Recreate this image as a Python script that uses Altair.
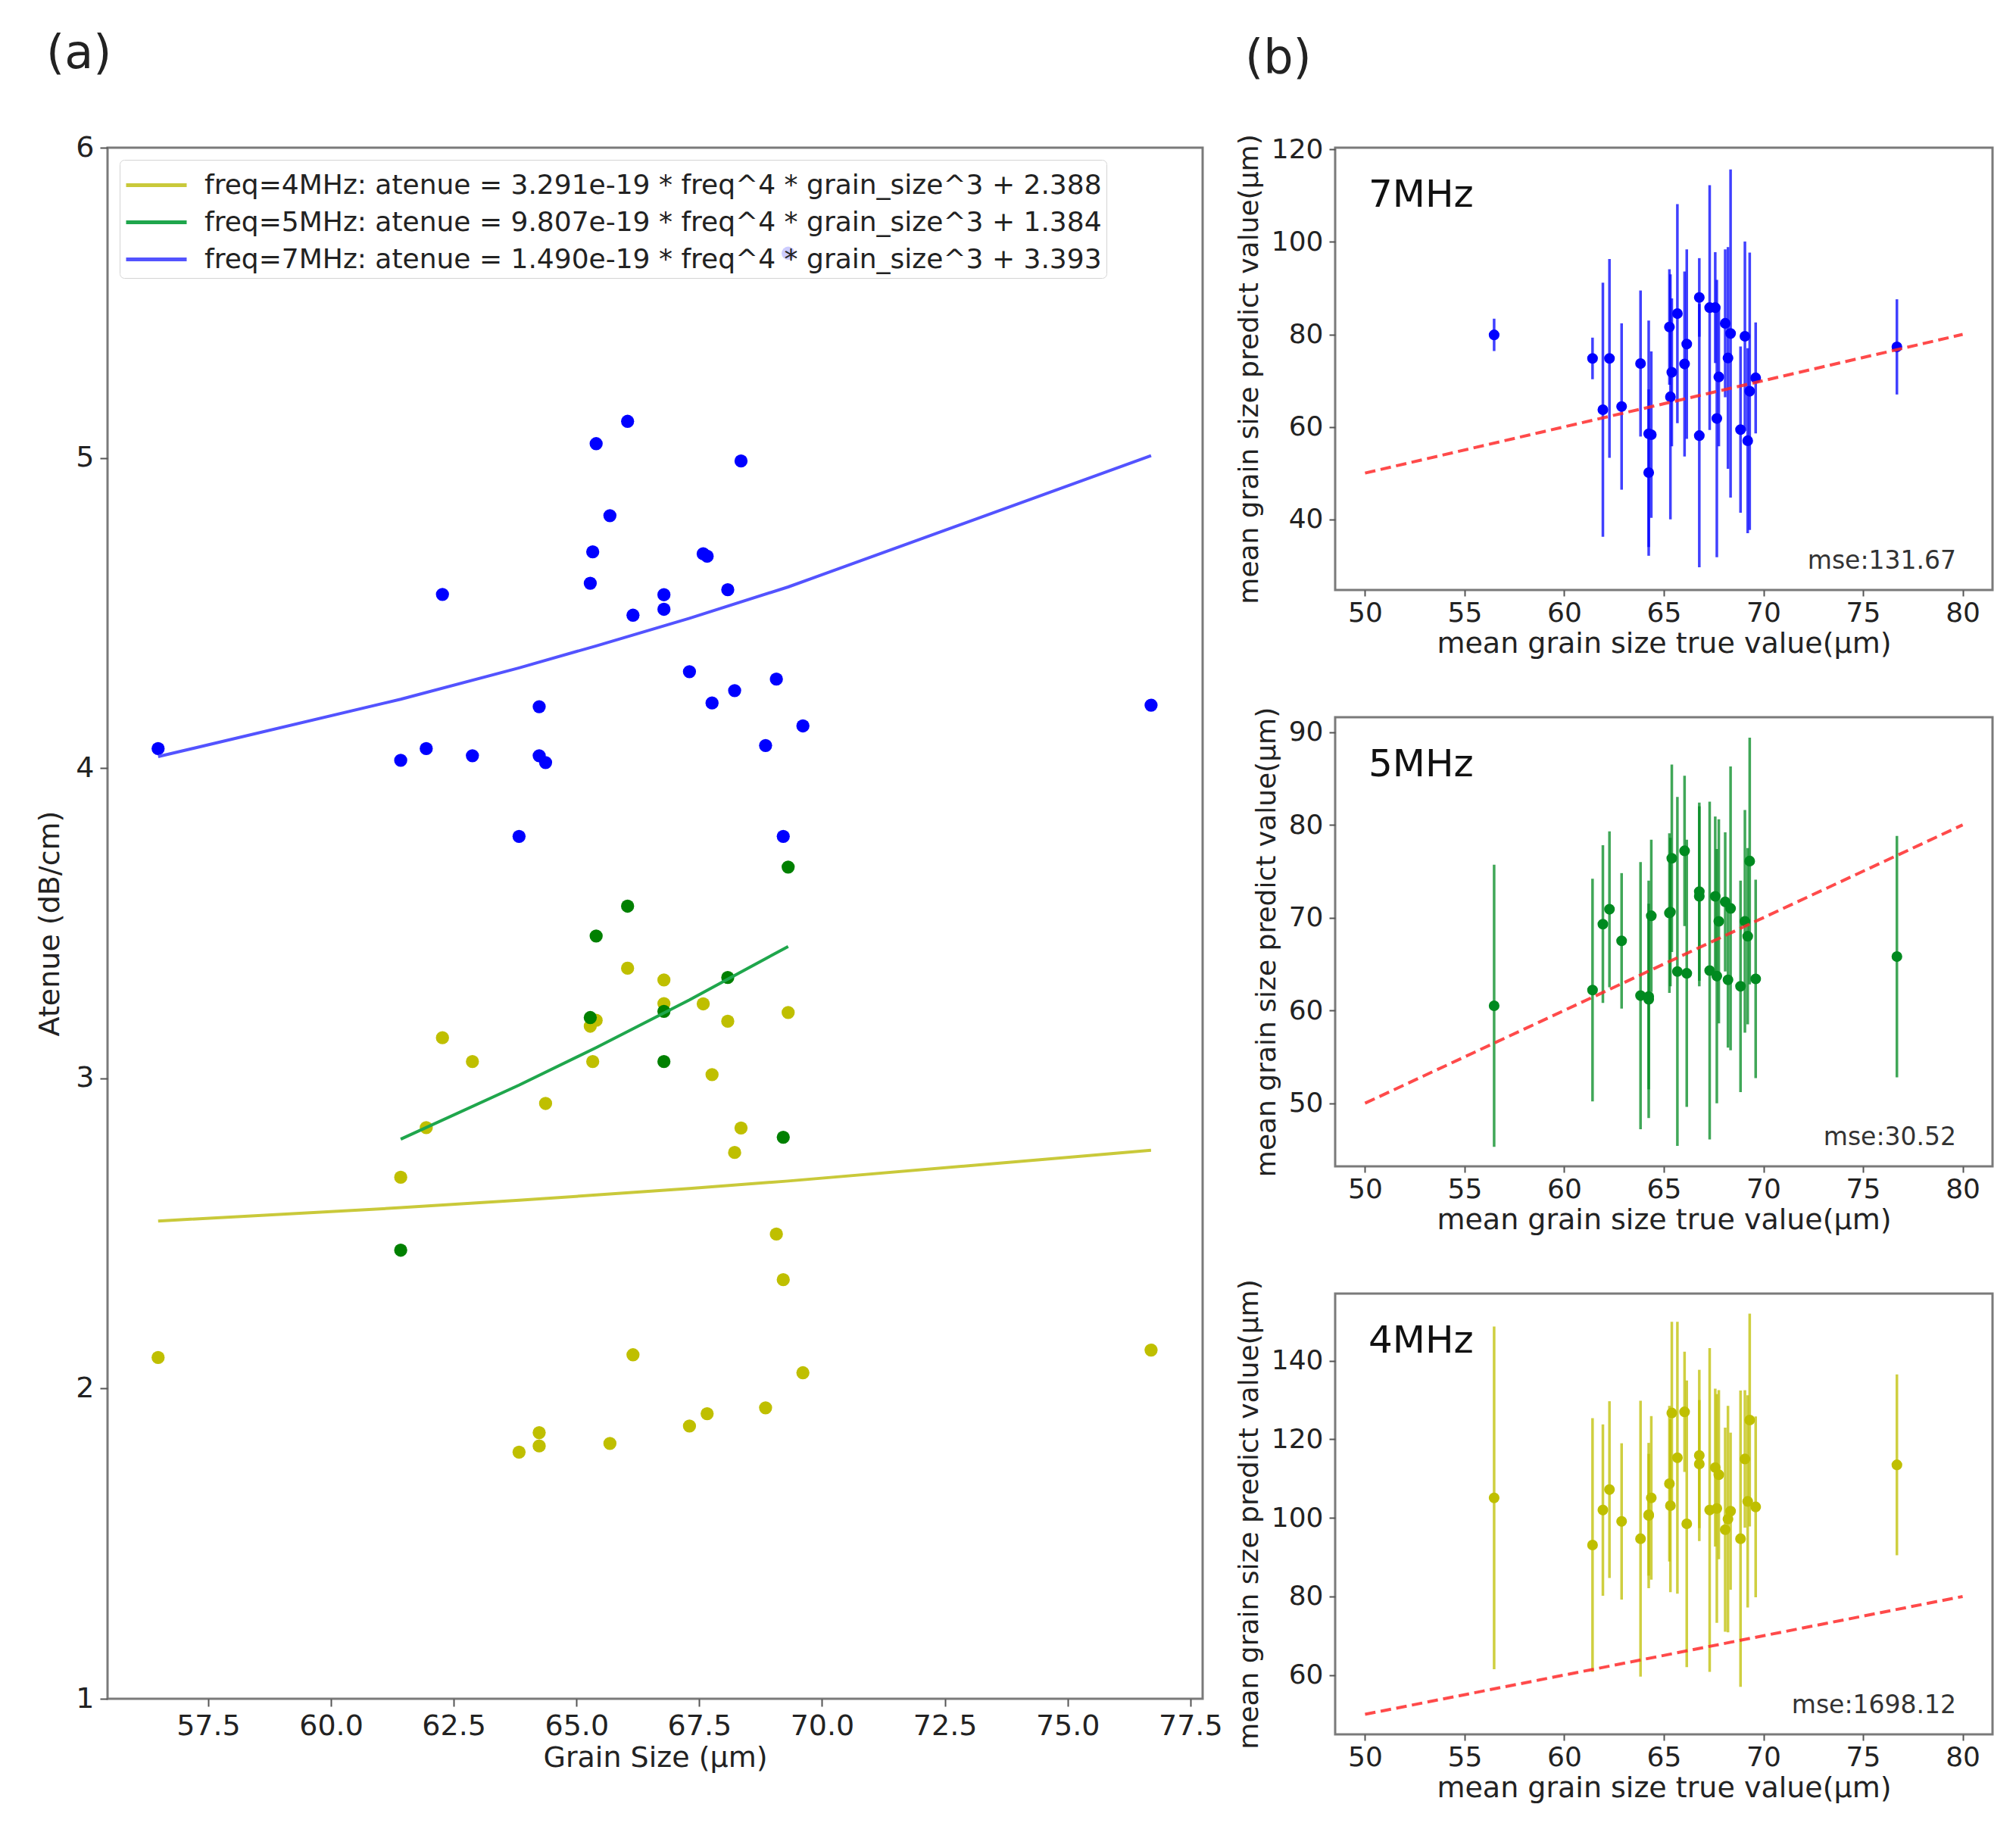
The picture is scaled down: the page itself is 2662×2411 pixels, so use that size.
import altair as alt
import pandas as pd

# ---------------- data ----------------
GRAIN = [56.48, 61.42, 61.94, 62.27, 62.88, 63.83, 64.24, 64.24, 64.37, 65.28,
         65.33, 65.40, 65.68, 66.04, 66.15, 66.78, 66.78, 67.30, 67.58, 67.66,
         67.76, 68.08, 68.22, 68.35, 68.85, 69.07, 69.21, 69.31, 69.61, 76.70]

ATT_4MHZ = [2.100, 2.681, 2.841, 3.131, 3.054, 1.795, 1.858, 1.815, 2.919, 3.168,
            3.054, 3.187, 1.823, 3.355, 2.109, 3.317, 3.241, 1.879, 3.240, 1.919,
            3.012, 3.184, 2.761, 2.840, 1.938, 2.498, 2.351, 3.212, 2.051, 2.124]

ATT_7MHZ = [4.063, 4.025, 4.063, 4.560, 4.040, 3.780, 4.198, 4.040, 4.018, 4.596,
            4.697, 5.046, 4.814, 5.118, 4.493, 4.559, 4.512, 4.311, 4.691, 4.683,
            4.210, 4.575, 4.250, 4.990, 4.073, 4.287, 3.780, 5.660, 4.136, 4.203]

GRAIN_5MHZ = [61.42, 65.28, 65.40, 66.04, 66.78, 66.78, 68.08, 69.21, 69.31]
ATT_5MHZ = [2.446, 3.196, 3.459, 3.555, 3.216, 3.054, 3.325, 2.810, 3.681]

FIT_GRAIN = [56.48, 61.42, 63.83, 65.40, 67.30, 69.31, 76.70]
FIT_4MHZ = [2.540, 2.583, 2.607, 2.624, 2.645, 2.669, 2.768]
FIT_7MHZ = [4.037, 4.222, 4.323, 4.394, 4.483, 4.584, 5.007]
FIT_GRAIN_5 = [61.42, 63.83, 65.40, 67.30, 69.31]
FIT_5MHZ = [2.804, 2.978, 3.099, 3.253, 3.425]

LEGEND_LABELS = [
    "freq=4MHz: atenue = 3.291e-19 * freq^4 * grain_size^3 + 2.388",
    "freq=5MHz: atenue = 9.807e-19 * freq^4 * grain_size^3 + 1.384",
    "freq=7MHz: atenue = 1.490e-19 * freq^4 * grain_size^3 + 3.393",
]

PRED_7MHZ = [79.9, 74.8, 63.7, 74.8, 64.4, 73.7, 50.1, 58.5, 58.3, 81.6,
             66.5, 71.8, 84.5, 73.6, 77.9, 88.0, 58.1, 85.8, 85.8, 61.8,
             70.8, 82.4, 74.9, 80.2, 59.4, 79.6, 57.0, 67.7, 70.6, 77.3]
ERR_7MHZ = [3.5, 4.5, 27.5, 21.5, 18.0, 15.8, 18.0, 24.5, 18.0, 12.5,
            26.5, 16.0, 23.7, 20.0, 20.5, 8.5, 28.5, 26.5, 12.0, 30.0,
            15.0, 16.0, 24.0, 35.5, 18.0, 20.5, 20.0, 30.0, 12.0, 10.3]

PRED_5MHZ = [60.5, 62.2, 69.3, 70.9, 67.5, 61.6, 61.2, 61.5, 70.2, 70.5,
             70.6, 76.4, 64.2, 77.2, 64.0, 72.8, 72.3, 64.3, 72.3, 63.7,
             69.6, 71.7, 63.3, 71.0, 62.6, 69.6, 68.0, 76.1, 63.4, 65.8]
ERR_5MHZ = [15.2, 12.0, 8.5, 8.4, 7.3, 14.4, 12.8, 10.0, 8.2, 8.6,
            8.0, 10.1, 18.8, 8.1, 14.4, 9.6, 9.7, 18.2, 8.6, 13.7,
            11.0, 7.5, 7.3, 15.3, 11.4, 12.0, 9.5, 13.3, 10.7, 13.0]

PRED_4MHZ = [105.1, 93.1, 102.0, 107.2, 99.1, 94.7, 100.8, 100.6, 105.1, 108.7,
             103.1, 126.7, 115.3, 127.0, 98.5, 115.9, 113.7, 102.0, 112.8, 102.4,
             111.0, 97.0, 99.7, 101.7, 94.7, 115.0, 104.2, 124.9, 102.8, 113.5]
ERR_4MHZ = [43.6, 32.3, 21.8, 22.5, 19.9, 35.1, 15.5, 18.5, 20.8, 19.8,
            22.0, 23.2, 34.6, 15.3, 36.5, 21.8, 16.3, 41.2, 20.1, 29.1,
            21.5, 26.0, 28.8, 20.0, 37.7, 17.5, 27.0, 27.1, 23.0, 23.0]

IDEAL = [50, 80]
MSE_TEXT = ["mse:131.67", "mse:30.52", "mse:1698.12"]
FREQ_LABELS = ["7MHz", "5MHz", "4MHz"]

# ---------------- styles ----------------
FONT = "DejaVu Sans"
PT_COLORS = ["#bfbf00", "#008000", "#0000ff"]
LINE_COLORS = ["#c9c93a", "#1fa64c", "#5353ff"]

# ---------------- panel (a) ----------------
pts = pd.concat([
    pd.DataFrame({"g": GRAIN, "att": ATT_4MHZ, "freq": "4MHz", "o": 0}),
    pd.DataFrame({"g": GRAIN_5MHZ, "att": ATT_5MHZ, "freq": "5MHz", "o": 1}),
    pd.DataFrame({"g": GRAIN, "att": ATT_7MHZ, "freq": "7MHz", "o": 2}),
], ignore_index=True)

fits = pd.concat([
    pd.DataFrame({"g": FIT_GRAIN, "att": FIT_4MHZ, "label": LEGEND_LABELS[0]}),
    pd.DataFrame({"g": FIT_GRAIN_5, "att": FIT_5MHZ, "label": LEGEND_LABELS[1]}),
    pd.DataFrame({"g": FIT_GRAIN, "att": FIT_7MHZ, "label": LEGEND_LABELS[2]}),
], ignore_index=True)

xa = alt.X("g:Q", scale=alt.Scale(domain=[55.45, 77.75], nice=False, zero=False),
           axis=alt.Axis(title="Grain Size (µm)", values=[57.5, 60, 62.5, 65, 67.5, 70, 72.5, 75, 77.5],
                         format=".1f", labelFontSize=38, titleFontSize=38, tickSize=10,
                         labelPadding=7, titlePadding=4))
ya = alt.Y("att:Q", scale=alt.Scale(domain=[1, 6], nice=False, zero=False),
           axis=alt.Axis(title="Atenue (dB/cm)", values=[1, 2, 3, 4, 5, 6], format="d",
                         labelFontSize=38, titleFontSize=38, tickSize=10,
                         labelPadding=8, titlePadding=14))

points_a = alt.Chart(pts).mark_circle(size=300, opacity=1).encode(
    x=xa, y=ya,
    color=alt.Color("freq:N", scale=alt.Scale(domain=["4MHz", "5MHz", "7MHz"], range=PT_COLORS), legend=None),
    order=alt.Order("o:Q"),
)
lines_a = alt.Chart(fits).mark_line(strokeWidth=4).encode(
    x="g:Q", y="att:Q",
    color=alt.Color("label:N", scale=alt.Scale(domain=LEGEND_LABELS, range=LINE_COLORS),
                    legend=alt.Legend(title=None, orient="top-left", offset=16, padding=6,
                                      fillColor="rgba(255,255,255,0.8)", strokeColor="#d4d4d4",
                                      cornerRadius=6, symbolType="M-1.6,0H1.6",
                                      symbolStrokeWidth=5, symbolSize=2500, symbolOffset=15,
                                      labelFontSize=36, labelLimit=3000,
                                      labelOffset=36, rowPadding=3, labelColor="#222")),
)

left = alt.layer(points_a, lines_a).resolve_scale(color="independent").properties(
    width=1446, height=2048,
    title=alt.TitleParams("(a)", anchor="start", frame="group", fontSize=62, fontWeight="normal",
                          dx=-81, offset=73, color="#222"),
)

# ---------------- panel (b) ----------------
def panel(pred, err, color, ydom, yticks, label, mse, height, title=None):
    df = pd.DataFrame({"g": GRAIN, "p": pred,
                       "lo": [p - e for p, e in zip(pred, err)],
                       "hi": [p + e for p, e in zip(pred, err)]})
    ideal = pd.DataFrame({"g": IDEAL, "p": IDEAL})
    x = alt.X("g:Q", scale=alt.Scale(domain=[48.5, 81.5], nice=False, zero=False),
              axis=alt.Axis(title="mean grain size true value(µm)", values=[50, 55, 60, 65, 70, 75, 80],
                            labelFontSize=36, titleFontSize=38, tickSize=8, labelPadding=5, titlePadding=4))
    y = alt.Y("p:Q", scale=alt.Scale(domain=ydom, nice=False, zero=False),
              axis=alt.Axis(title="mean grain size predict value(µm)", values=yticks,
                            labelFontSize=36, titleFontSize=36, tickSize=8, labelPadding=8, titlePadding=10))
    bars = alt.Chart(df).mark_rule(strokeWidth=3.5, color=color, opacity=0.75).encode(
        x=x, y=alt.Y("lo:Q"), y2="hi:Q")
    dots = alt.Chart(df).mark_circle(size=200, color=color, opacity=1).encode(x="g:Q", y=y)
    ref = alt.Chart(ideal).mark_line(color="#ff2a2a", opacity=0.85, strokeWidth=4,
                                     strokeDash=[14, 7]).encode(x="g:Q", y="p:Q")
    lab = alt.Chart(pd.DataFrame({"t": [label]})).mark_text(
        align="left", baseline="top", fontSize=50, color="#111").encode(
        x=alt.value(44), y=alt.value(38), text="t:N")
    ms = alt.Chart(pd.DataFrame({"t": [mse]})).mark_text(
        align="right", baseline="alphabetic", fontSize=33, color="#333").encode(
        x=alt.value(820), y=alt.value(height - 28), text="t:N")
    props = dict(width=868, height=height)
    if title is not None:
        props["title"] = title
    return alt.layer(bars, dots, ref, lab, ms).properties(**props)

top = panel(PRED_7MHZ, ERR_7MHZ, "#0000ff", [24.7, 120.4], [40, 60, 80, 100, 120],
            FREQ_LABELS[0], MSE_TEXT[0], 584,
            title=alt.TitleParams("(b)", anchor="start", frame="group", fontSize=62,
                                  fontWeight="normal", dx=-119, offset=68, color="#222"))
mid = panel(PRED_5MHZ, ERR_5MHZ, "#008a20", [43.2, 91.6], [50, 60, 70, 80, 90],
            FREQ_LABELS[1], MSE_TEXT[1], 593)
bot = panel(PRED_4MHZ, ERR_4MHZ, "#bfbf00", [44.9, 157.1], [60, 80, 100, 120, 140],
            FREQ_LABELS[2], MSE_TEXT[2], 582)

right = alt.vconcat(top, mid, bot, spacing=168, bounds="flush")

chart = alt.hconcat(left, right, spacing=175, bounds="flush").properties(
    padding={"left": 38, "top": 30, "right": 5, "bottom": 5},
    background="white",
).configure(font=FONT).configure_axis(
    grid=False, domain=False, tickColor="#555", tickWidth=2, labelColor="#222",
    titleColor="#222", titleFontWeight="normal",
).configure_view(stroke="#7a7a7a", strokeWidth=3)

chart.save("out.html", embed_options={"renderer": "svg", "actions": False})
